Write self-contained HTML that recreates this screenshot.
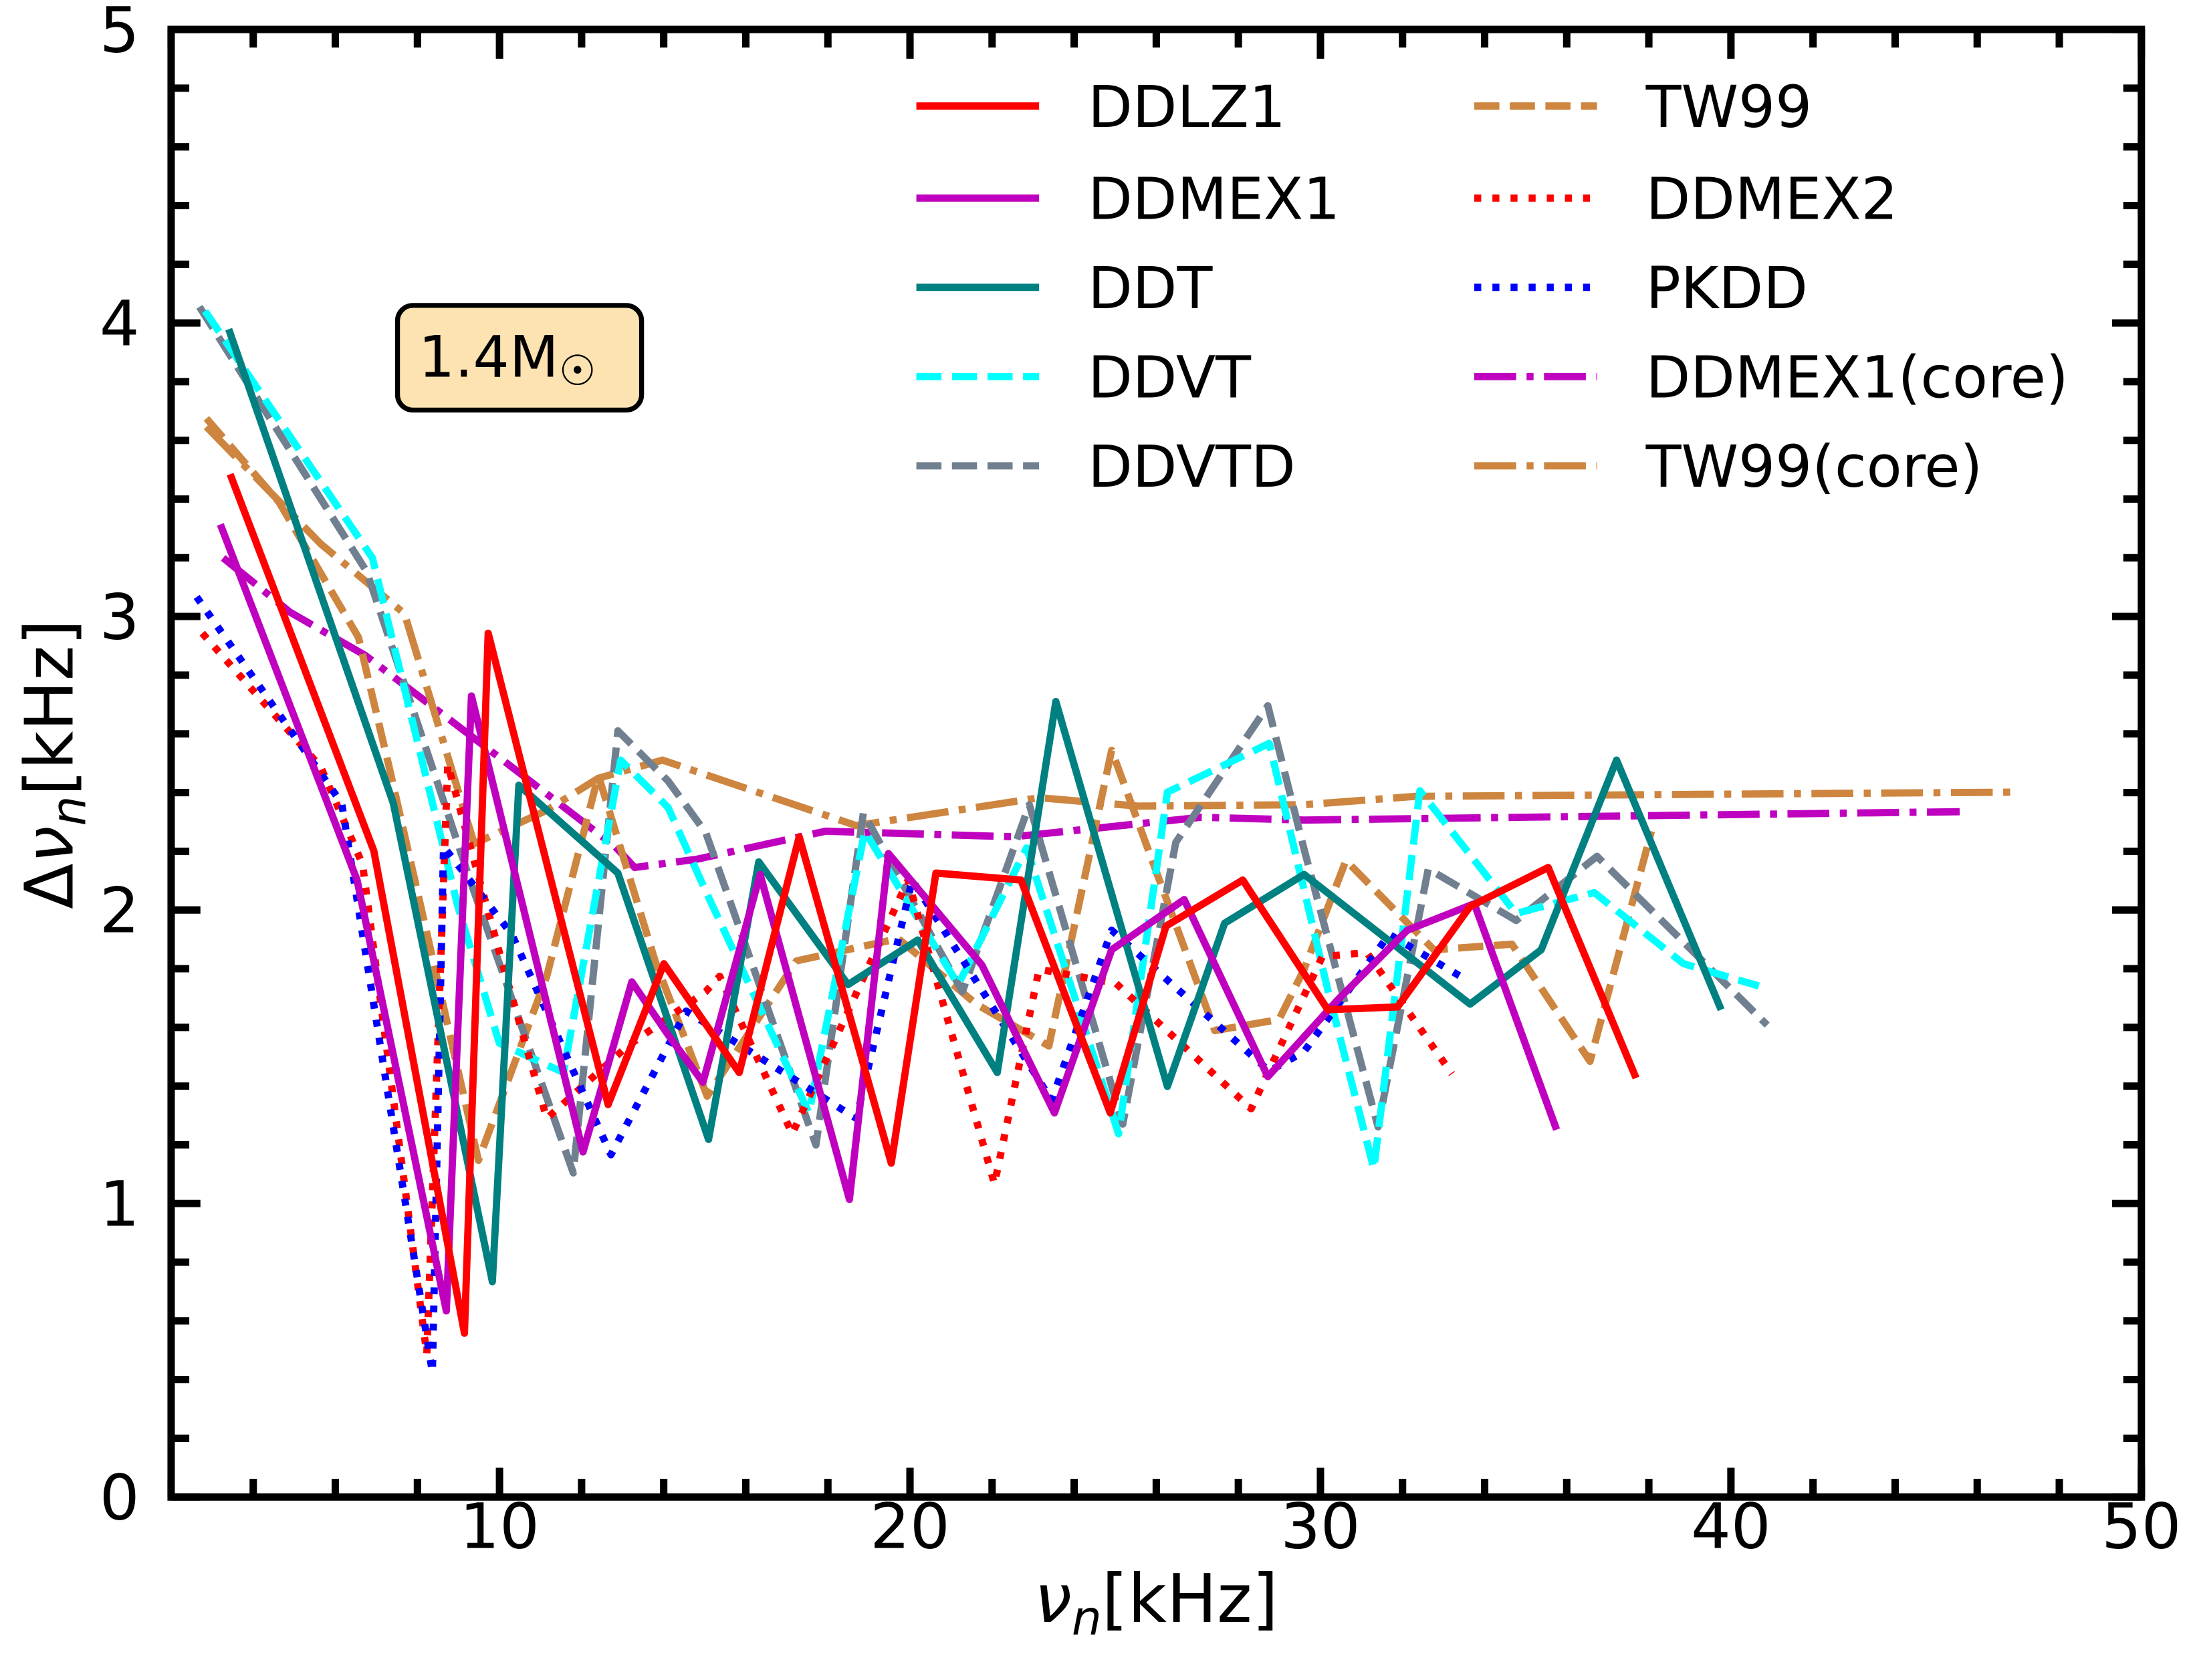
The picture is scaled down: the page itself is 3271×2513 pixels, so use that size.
<!DOCTYPE html>
<html><head><meta charset="utf-8"><style>
html,body{margin:0;padding:0;background:#fff}
svg{display:block}
text{font-family:"DejaVu Sans","Liberation Sans",sans-serif;fill:#000}
</style></head><body>
<svg id="s" width="3271" height="2513" viewBox="0 0 1568 1204.6" xmlns="http://www.w3.org/2000/svg">
<g id="ticks" stroke="#000" stroke-width="5.3"></g>
<g fill="none" stroke-width="5.2" stroke-linejoin="round">
<polyline stroke="#bf00bf" stroke-dasharray="30,7.5,5,7.5" points="160,400 208,439 262,470 367,550 441,607 455,622 500,616 592,596 727,600 861,586 935,588 1405,582"/>
<polyline stroke="#cd853f" stroke-dasharray="30,7.5,5,7.5" points="148,306 230,390 290,440 340,605 392,581 429,558 475,545 614,592 745,572 816,578 935,577 1015,571 1442,568"/>
<polyline stroke="#cd853f" stroke-dasharray="18,7.5" points="148,300 200,360 257,457 279,550 343,832 392,700 429,556 470,690 507,786 571,689 644,673 700,720 752,750 797,538 871,739 917,731 935,695 965,617 1028,681 1084,677 1140,761 1184,596"/>
<polyline stroke="#708090" stroke-dasharray="18,7.5" points="143,220 263,410 338,634 411,841 443,524 479,560 506,597 585,821 619,583 690,711 738,577 805,806 843,604 909,506 935,609 988,808 1024,623 1087,660 1145,614 1267,735"/>
<polyline stroke="#00ffff" stroke-dasharray="18,7.5" points="147,223 267,400 328,649 358,748 404,769 445,545 479,579 506,639 580,798 620,596 687,706 736,608 802,813 837,568 910,533 953,714 985,838 1018,567 1087,655 1143,640 1207,691 1261,707"/>
<polyline stroke="#ff0000" stroke-dasharray="5,8" points="145,454 230,550 260,620 306,971 321,548 360,690 392,802 450,750 506,711 516,700 568,813 651,631 713,849 745,695 800,705 897,795 948,686 980,683 1041,770"/>
<polyline stroke="#0000ff" stroke-dasharray="5,8" points="141,428 245,576 310,984 318,607 367,670 438,828 492,725 614,802 654,631 754,789 797,667 910,768 935,754 996,670 1047,700"/>
<polyline stroke="#008080" points="164,236 282,576 353,919 372,563 443,626 508,817 544,618 608,706 658,674 715,769 757,503 837,779 878,662 935,627 1054,720 1105,681 1159,545 1234,724"/>
<polyline stroke="#bf00bf" points="158,376 256,631 320,940 338,499 418,826 453,704 479,742 504,776 545,627 609,860 637,612 704,692 756,798 797,681 849,645 909,772 959,717 1009,667 1057,648 1116,810"/>
<polyline stroke="#ff0000" points="165,340 268,610 333,956 350,454 436,792 476,691 530,769 573,600 639,834 671,626 732,631 796,798 836,664 891,631 952,724 1002,722 1054,650 1110,622 1173,773"/>
</g>
<rect x="122.7" y="21.1" width="1412.6" height="1052.3" fill="none" stroke="#000" stroke-width="5.3"/>
<rect x="285" y="219" width="175" height="75" rx="11" fill="#fde3b2" stroke="#000" stroke-width="3.5"/>
<text x="300" y="270" font-size="41">1.4M<tspan font-size="30" dy="6">☉</tspan></text>
<g stroke-width="5.2" fill="none">
<line x1="657" y1="76" x2="745" y2="76" stroke="#ff0000"/>
<line x1="657" y1="142" x2="745" y2="142" stroke="#bf00bf"/>
<line x1="657" y1="206" x2="745" y2="206" stroke="#008080"/>
<line x1="657" y1="270" x2="745" y2="270" stroke="#00ffff" stroke-dasharray="18,7.5"/>
<line x1="657" y1="334" x2="745" y2="334" stroke="#708090" stroke-dasharray="18,7.5"/>
<line x1="1057" y1="76" x2="1145" y2="76" stroke="#cd853f" stroke-dasharray="18,7.5"/>
<line x1="1057" y1="142" x2="1145" y2="142" stroke="#ff0000" stroke-dasharray="5,8"/>
<line x1="1057" y1="206" x2="1145" y2="206" stroke="#0000ff" stroke-dasharray="5,8"/>
<line x1="1057" y1="270" x2="1145" y2="270" stroke="#bf00bf" stroke-dasharray="30,7.5,5,7.5"/>
<line x1="1057" y1="334" x2="1145" y2="334" stroke="#cd853f" stroke-dasharray="30,7.5,5,7.5"/>
</g>
<g font-size="41.5">
<text x="780" y="91">DDLZ1</text>
<text x="780" y="157">DDMEX1</text>
<text x="780" y="221">DDT</text>
<text x="780" y="285">DDVT</text>
<text x="780" y="349">DDVTD</text>
<text x="1180" y="91">TW99</text>
<text x="1180" y="157">DDMEX2</text>
<text x="1180" y="221">PKDD</text>
<text x="1180" y="285">DDMEX1(core)</text>
<text x="1180" y="349">TW99(core)</text>
</g>
<g id="lbl" font-size="45"></g>
<text x="829" y="1163" font-size="48" text-anchor="middle"><tspan font-style="italic">ν</tspan><tspan font-style="italic" font-size="34" dy="9">n</tspan><tspan dy="-9">[kHz]</tspan></text>
<text transform="translate(52,548) rotate(-90)" font-size="48" text-anchor="middle">Δ<tspan font-style="italic">ν</tspan><tspan font-style="italic" font-size="34" dy="9">n</tspan><tspan dy="-9">[kHz]</tspan></text>
</svg>
<script>
var NS="http://www.w3.org/2000/svg",t=document.getElementById("ticks"),l=document.getElementById("lbl");
var L=122.7,R=1535.3,T=21.1,B=1073.4;
function X(v){return L+(v-2)*(R-L)/48}
function Y(v){return B-v*(B-T)/5}
var d="";
for(var v=2;v<=50;v+=2){var x=X(v),maj=(v%10==0),len=maj?21:13;
 d+="M"+x+","+B+"V"+(B-len)+"M"+x+","+T+"V"+(T+len);
 if(maj){var e=document.createElementNS(NS,"text");e.setAttribute("x",x);e.setAttribute("y",1110);e.setAttribute("text-anchor","middle");e.textContent=v;l.appendChild(e);}}
for(var i=0;i<=25;i++){var v=i*0.2,y=Y(v),maj=(i%5==0),len=maj?21:13;
 d+="M"+L+","+y+"H"+(L+len)+"M"+R+","+y+"H"+(R-len);
 if(maj){var e=document.createElementNS(NS,"text");e.setAttribute("x",100);e.setAttribute("y",y+16);e.setAttribute("text-anchor","end");e.textContent=i/5;l.appendChild(e);}}
var p=document.createElementNS(NS,"path");p.setAttribute("d",d);t.appendChild(p);
</script>
</body></html>
